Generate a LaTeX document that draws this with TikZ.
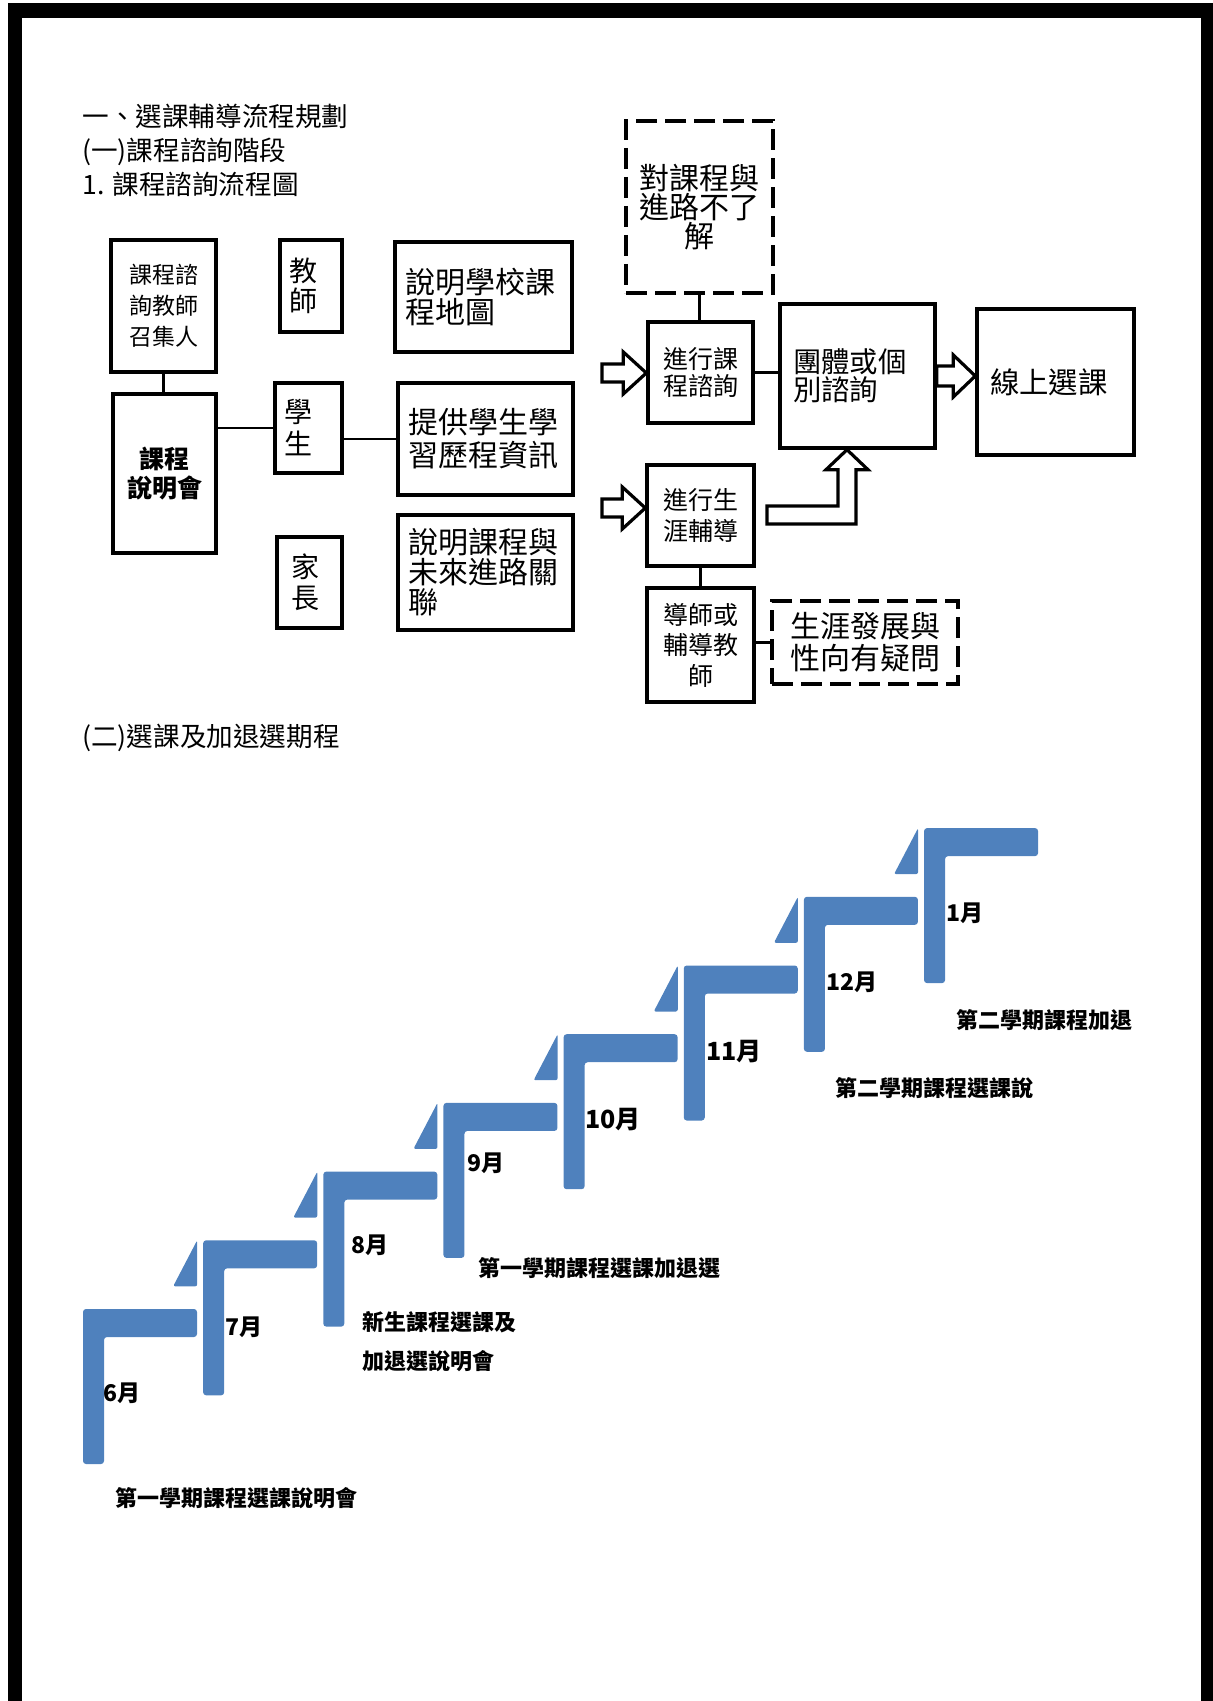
\documentclass[tikz,border=0pt]{standalone}
\usepackage{fontspec}
\setmainfont{Noto Sans CJK TC}
\usetikzlibrary{calc}
\definecolor{stairblue}{RGB}{79,129,189}
\newcommand{\fsz}[2]{\fontsize{#1}{#2}\selectfont}
% hollow block arrow: tail, tip, head length, shaft half height, head half height
\newcommand{\hollowh}[5]{\draw[harrow] ($(#1)+(0,-#4)$) -- ($(#2)+(-#3,-#4)$) -- ($(#2)+(-#3,-#5)$) -- (#2) -- ($(#2)+(-#3,#5)$) -- ($(#2)+(-#3,#4)$) -- ($(#1)+(0,#4)$) -- cycle;}
\tikzset{
 bx/.style={draw, line width=1.7pt, inner sep=0pt, align=center},
 dbx/.style={bx, line width=2pt, dash pattern=on 10.5pt off 4pt},
 conn/.style={line width=1.4pt},
 harrow/.style={draw, line width=1.6pt, fill=white, line join=miter},
 stair/.style={fill=stairblue, rounded corners=1.5pt},
 ear/.style={fill=stairblue, rounded corners=1pt},
 mon/.style={anchor=west, inner sep=0pt, font=\bfseries\fsz{11.5pt}{13pt}},
 capt/.style={anchor=west, inner sep=0pt, align=left, font=\bfseries\fsz{11pt}{19.5pt}},
 ttl/.style={anchor=west, inner sep=0pt, font=\fsz{13.3pt}{15pt}},
}
\begin{document}
\begin{tikzpicture}[x=0.5pt,y=-0.5pt]
\useasboundingbox (0,0) rectangle (1213,1701);
% page frame
\fill[black] (8,3) rectangle (22,1701);
\fill[black] (8,3) rectangle (1213,18);
\fill[black] (1201,3) rectangle (1213,1701);

% headings
\node[ttl] (t1) at (82,116) {一、選課輔導流程規劃};
\node[ttl] (t2) at (82,152) {(一)課程諮詢階段};
\node[ttl] (t3) at (82,184) {1. 課程諮詢流程圖};
\node[ttl] (t4) at (82,738) {(二)選課及加退選期程};

% left flowchart
\node[bx, minimum width=52.5pt, minimum height=66pt, font=\fsz{11.5pt}{15.5pt}] (conv) at (163.5,306) {課程諮\\詢教師\\召集人};
\node[bx, minimum width=51.5pt, minimum height=79.5pt, font=\bfseries\fsz{12.5pt}{14.5pt}] (meet) at (164.5,473.5) {課程\\說明會};
\node[bx, minimum width=31pt, minimum height=46pt, text width=22pt, inner xsep=4.5pt, align=left, font=\fsz{14pt}{15pt}] (teach) at (311,286) {教\\師};
\node[bx, minimum width=33.5pt, minimum height=45pt, text width=24.5pt, inner xsep=4.5pt, align=left, font=\fsz{14pt}{16pt}] (stud) at (308.5,428) {學\\生};
\node[bx, minimum width=32.5pt, minimum height=45.5pt, text width=18.5pt, inner xsep=7pt, align=left, font=\fsz{14pt}{15.5pt}] (par) at (309.5,582.5) {家\\長};
\node[bx, minimum width=88.5pt, minimum height=55pt, text width=78.5pt, inner xsep=5pt, align=left, font=\fsz{15pt}{15pt}] (map) at (483.5,297) {說明學校課\\程地圖};
\node[bx, minimum width=87.5pt, minimum height=56pt, text width=77.5pt, inner xsep=5pt, align=left, font=\fsz{15pt}{16.5pt}] (info) at (485.5,439) {提供學生學\\習歷程資訊};
\node[bx, minimum width=87.5pt, minimum height=57.5pt, text width=77.5pt, inner xsep=5pt, align=left, font=\fsz{15pt}{15pt}] (rel) at (485.5,572.5) {說明課程與\\未來進路關\\聯};

\draw[conn] (conv.south) -- (conv.south |- meet.north);
\draw[conn] (stud.west) -- (stud.west -| meet.east);
\draw[conn] (info.west) -- (info.west -| stud.east);

% right flowchart
\node[dbx, minimum width=73.5pt, minimum height=86pt, font=\fsz{15pt}{14.5pt}] (unk) at (699.5,207) {對課程與\\進路不了\\解};
\node[bx, minimum width=52.5pt, minimum height=50.5pt, font=\fsz{12.5pt}{13.5pt}] (cc) at (700.5,372.5) {進行課\\程諮詢};
\node[bx, minimum width=77.5pt, minimum height=72pt, text width=64.5pt, inner xsep=6.5pt, align=left, font=\fsz{14.2pt}{14pt}] (grp) at (857.5,376) {團體或個\\別諮詢};
\node[bx, minimum width=78.5pt, minimum height=73pt, text width=65.5pt, inner xsep=6.5pt, align=left, font=\fsz{14.7pt}{15pt}] (online) at (1055.5,382) {線上選課};
\node[bx, minimum width=53.5pt, minimum height=50.5pt, font=\fsz{12.5pt}{15.8pt}] (cg) at (700.5,515.5) {進行生\\涯輔導};
\node[bx, minimum width=53.5pt, minimum height=57pt, font=\fsz{12.5pt}{15.25pt}] (tut) at (700.5,645) {導師或\\輔導教\\師};
\node[dbx, minimum width=93pt, minimum height=41.5pt, font=\fsz{15pt}{16pt}] (doubt) at (865,642.5) {生涯發展與\\性向有疑問};

\draw[conn] (unk.south) -- (unk.south |- cc.north);
\draw[conn] (cc.east) -- (cc.east -| grp.west);
\draw[conn] (cg.south) -- (cg.south |- tut.north);
\draw[conn] (doubt.west) -- (doubt.west -| tut.east);

% hollow arrows
\coordinate (a1t) at (602,373);
\coordinate (a1h) at (a1t -| cc.west);
\hollowh{a1t}{a1h}{23}{9}{21}
\coordinate (a2t) at (602,508);
\coordinate (a2h) at (a2t -| cg.west);
\hollowh{a2t}{a2h}{23}{9}{21}
\coordinate (a3h) at (grp.east -| online.west);
\hollowh{grp.east}{a3h}{22}{10}{21}
% elbow arrow into group box
\coordinate (e0) at (767,515);
\coordinate (e1) at ($(grp.south)+(-10.5,0)$);
\coordinate (e2) at (e1 |- e0);
\draw[harrow] ($(e0)+(0,-9)$) -- ($(e2)+(-9,-9)$) -- ($(e1)+(-9,20)$) -- ($(e1)+(-21,20)$) -- (e1) -- ($(e1)+(21,20)$) -- ($(e1)+(9,20)$) -- ($(e2)+(9,9)$) -- ($(e0)+(0,9)$) -- cycle;

% stairs
\foreach \i in {0,...,7}{
  \pgfmathsetmacro\sx{83+120.15*\i}
  \pgfmathsetmacro\sy{1309-68.7*\i}
  \fill[stair] (\sx,\sy+155) -- (\sx,\sy) -- (\sx+114,\sy) -- (\sx+114,\sy+28) -- (\sx+21,\sy+28) -- (\sx+21,\sy+155) -- cycle;
}
\foreach \i in {1,...,7}{
  \pgfmathsetmacro\sx{83+120.15*\i}
  \pgfmathsetmacro\sy{1309-68.7*\i}
  \fill[ear] (\sx-30,\sy+46) -- (\sx-6,\sy+46) -- (\sx-6,\sy) -- cycle;
}

% month labels
\node[mon] (m6) at (103,1393) {6月};
\node[mon] (m7) at (225,1327) {7月};
\node[mon] (m8) at (351,1245) {8月};
\node[mon] (m9) at (467,1163) {9月};
\node[mon, font=\bfseries\fsz{12.5pt}{13pt}] (m10) at (585,1120) {10月};
\node[mon, font=\bfseries\fsz{12.5pt}{13pt}] (m11) at (706,1052) {11月};
\node[mon] (m12) at (826,982) {12月};
\node[mon] (m1) at (946,913) {1月};

% captions
\node[capt] (c1) at (115,1498) {第一學期課程選課說明會};
\node[capt] (c2) at (362,1341.5) {新生課程選課及\\加退選說明會};
\node[capt] (c3) at (478,1268) {第一學期課程選課加退選};
\node[capt] (c4) at (835,1088) {第二學期課程選課說};
\node[capt] (c5) at (956,1020) {第二學期課程加退};
\end{tikzpicture}
\end{document}
